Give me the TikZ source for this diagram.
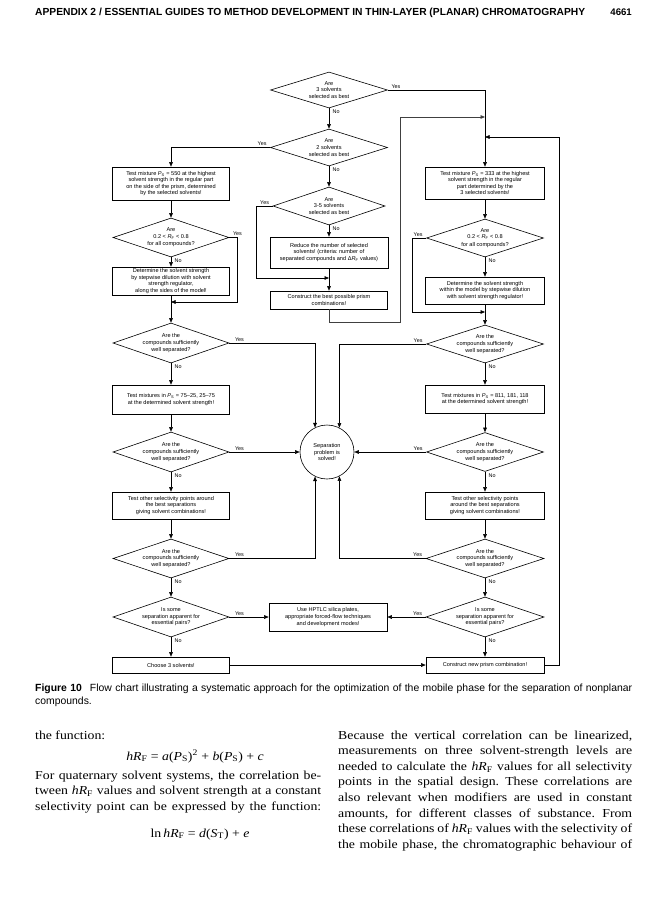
\documentclass[tikz,border=0pt]{standalone}
\usepackage{fontspec}
\setmainfont{Liberation Serif}
\setsansfont{Liberation Sans}
\newfontfamily\bodyfont[FakeStretch=1.13]{Liberation Serif}
\usetikzlibrary{shapes.geometric,arrows.meta,calc}
\newcommand{\mysub}[1]{\textsubscript{#1}}
\newcommand{\PS}{{\itshape P}\mysub{S}}
\newcommand{\RF}{{\itshape R}\mysub{F}}
\newcommand{\hRF}{\textit{hR}\mysub{F}}
\newcommand{\jlL}[1]{\makebox[286pt][s]{#1}}
\newcommand{\jlR}[1]{\makebox[294pt][s]{#1}}
\frenchspacing
\begin{document}
\begin{tikzpicture}[x=1pt,y=-1pt,
  fc/.style={font=\sffamily\fontsize{5.6}{6.6}\selectfont, align=center},
  box/.style={fc, draw, line width=0.6pt, rectangle, inner sep=0pt},
  dia/.style={fc, draw, line width=0.6pt, diamond, inner sep=0pt, aspect=3},
  arr/.style={line width=0.5pt, -{Triangle[length=4.5pt,width=3.6pt]}},
  lbl/.style={font=\sffamily\fontsize{5.4}{6}\selectfont, inner sep=0.5pt},
  body/.style={font=\bodyfont\fontsize{12.2}{14}\selectfont, inner sep=0pt, anchor=base west},
  captxt/.style={font=\sffamily\fontsize{10.4}{12}\selectfont, inner sep=0pt, anchor=base west}
]
\fill[white] (0,0) rectangle (668,900);
\useasboundingbox (0,0) rectangle (668,900);

% header
\node[anchor=base west, inner sep=0pt] (hdr) at (35,15)
  {\resizebox{550pt}{!}{\sffamily\bfseries APPENDIX 2 / ESSENTIAL GUIDES TO METHOD DEVELOPMENT IN THIN-LAYER (PLANAR) CHROMATOGRAPHY}};
\node[anchor=base east, inner sep=0pt, font=\sffamily\bfseries\fontsize{9.6}{10}\selectfont] (pg) at (632,15) {4661};

% centre column
\node[dia, minimum width=117pt, minimum height=36pt] (d1) at (329,90) {Are\\3 solvents\\selected as best};
\node[dia, minimum width=117pt, minimum height=37pt] (d2) at (329,147.5) {Are\\2 solvents\\selected as best};
\node[dia, minimum width=112pt, minimum height=38pt] (dc3) at (329,206) {Are\\3-5 solvents\\selected as best};
\node[box, minimum width=118pt, minimum height=31pt] (c1) at (329,252.5) {Reduce the number of selected\\solvents! (criteria: number of\\separated compounds and Δ\RF{} values)};
\node[box, minimum width=117pt, minimum height=18pt] (c2) at (329,300) {Construct the best possible prism\\combinations!};
\node[circle, draw, line width=0.6pt, minimum size=54pt, inner sep=0pt, fc] (circ) at (327,452) {Separation\\problem is\\solved!};
\node[box, minimum width=118pt, minimum height=28pt] (bc) at (328,617) {Use HPTLC silica plates,\\appropriate forced-flow techniques\\and development modes!};

% left column
\node[box, minimum width=117pt, minimum height=33pt] (b1) at (171,183.5) {Test mixture \PS{} = 550 at the highest\\solvent strength in the regular part\\on the side of the prism, determined\\by the selected solvents!};
\node[dia, minimum width=116pt, minimum height=39pt] (d3) at (171,237.5) {Are\\0.2 {\textless} \RF{} {\textless} 0.8\\[1pt]for all compounds?};
\node[box, minimum width=117pt, minimum height=28pt] (b2) at (171,281) {Determine the solvent strength\\by stepwise dilution with solvent\\strength regulator,\\along the sides of the model!};
\node[dia, minimum width=116pt, minimum height=40pt] (dl2) at (171,343) {Are the\\compounds sufficiently\\well separated?};
\node[box, minimum width=117pt, minimum height=29pt] (bl3) at (171,399.5) {Test mixtures in \PS{} = 75–25, 25–75\\at the determined solvent strength!};
\node[dia, minimum width=116pt, minimum height=40pt] (dl3) at (171,452) {Are the\\compounds sufficiently\\well separated?};
\node[box, minimum width=117pt, minimum height=27pt] (bl4) at (171,505.5) {Test other selectivity points around\\the best separations\\giving solvent combinations!};
\node[dia, minimum width=116pt, minimum height=39pt] (dl4) at (171,558.5) {Are the\\compounds sufficiently\\well separated?};
\node[dia, minimum width=116pt, minimum height=40pt] (dl5) at (171,617) {Is some\\separation apparent for\\essential pairs?};
\node[box, minimum width=117pt, minimum height=16pt] (bl6) at (171,665) {Choose 3 solvents!};

% right column
\node[box, minimum width=119pt, minimum height=32pt] (r1) at (485,183) {Test mixture \PS{} = 333 at the highest\\solvent strength in the regular\\part determined by the\\3 selected solvents!};
\node[dia, minimum width=117pt, minimum height=38pt] (dr1) at (485,238) {Are\\0.2 {\textless} \RF{} {\textless} 0.8\\[1pt]for all compounds?};
\node[box, minimum width=119pt, minimum height=27pt] (r2) at (485,290.5) {Determine the solvent strength\\within the model by stepwise dilution\\with solvent strength regulator!};
\node[dia, minimum width=117pt, minimum height=38pt] (dr2) at (485,344) {Are the\\compounds sufficiently\\well separated?};
\node[box, minimum width=119pt, minimum height=28pt] (br3) at (485,399) {Test mixtures in \PS{} = 811, 181, 118\\at the determined solvent strength!};
\node[dia, minimum width=117pt, minimum height=39pt] (dr3) at (485,452) {Are the\\compounds sufficiently\\well separated?};
\node[box, minimum width=119pt, minimum height=27pt] (br4) at (485,505.5) {Test other selectivity points\\around the best separations\\giving solvent combinations!};
\node[dia, minimum width=118pt, minimum height=39pt] (dr4) at (485,558.5) {Are the\\compounds sufficiently\\well separated?};
\node[dia, minimum width=118pt, minimum height=40pt] (dr5) at (485,617) {Is some\\separation apparent for\\essential pairs?};
\node[box, minimum width=118pt, minimum height=16pt] (br6) at (485,665) {Construct new prism combination!};

% junction points
\coordinate (j1) at (485,117);
\coordinate (j2) at (485,137);
\coordinate (j3) at (329,278);
\coordinate (j4) at (171,302);
\coordinate (j5) at (485,312);

% connectors: centre
\draw[arr] (d1.east) -| (r1.north);
\node[lbl, anchor=south west] at ($(d1.east)+(3,-1)$) {Yes};
\draw[arr] (d1.south) -- (d2.north);
\node[lbl, anchor=north west] at ($(d1.south)+(3,1)$) {No};
\draw[arr] (d2.west) -| (b1.north);
\node[lbl, anchor=south east] at ($(d2.west)+(-3,-1)$) {Yes};
\draw[arr] (d2.south) -- (dc3.north);
\node[lbl, anchor=north west] at ($(d2.south)+(3,1)$) {No};
\draw[arr] (dc3.west) -- (256,206) |- (j3);
\node[lbl, anchor=south east] at ($(dc3.west)+(-3,-1)$) {Yes};
\draw[arr] (dc3.south) -- (c1.north);
\node[lbl, anchor=north west] at ($(dc3.south)+(3,1)$) {No};
\draw[arr] (c1.south) -- (c2.north);
\draw[arr, draw=black!75, line width=0.8pt] (c2.south) -- ++(0,13) -| (400,117) -- (j1);
\draw[arr] (br6.east) -- (559,665) -- (559,137) -- (j2);

% connectors: left
\draw[arr] (b1.south) -- (d3.north);
\draw[arr] (d3.east) -- (237,237.5) |- (j4);
\node[lbl, anchor=south west] at ($(d3.east)+(3,-1)$) {Yes};
\draw[arr] (d3.south) -- (b2.north);
\node[lbl, anchor=north west] at ($(d3.south)+(3,1)$) {No};
\draw[arr] (b2.south) -- (dl2.north);
\draw[arr] (dl2.east) -| (circ.116.4);
\node[lbl, anchor=south west] at ($(dl2.east)+(5,-1)$) {Yes};
\draw[arr] (dl2.south) -- (bl3.north);
\node[lbl, anchor=north west] at ($(dl2.south)+(3,1)$) {No};
\draw[arr] (bl3.south) -- (dl3.north);
\draw[arr] (dl3.east) -- (circ.west);
\node[lbl, anchor=south west] at ($(dl3.east)+(5,-1)$) {Yes};
\draw[arr] (dl3.south) -- (bl4.north);
\node[lbl, anchor=north west] at ($(dl3.south)+(3,1)$) {No};
\draw[arr] (bl4.south) -- (dl4.north);
\draw[arr] (dl4.east) -| (circ.-116.4);
\node[lbl, anchor=south west] at ($(dl4.east)+(5,-1)$) {Yes};
\draw[arr] (dl4.south) -- (dl5.north);
\node[lbl, anchor=north west] at ($(dl4.south)+(3,1)$) {No};
\draw[arr] (dl5.east) -- (bc.west);
\node[lbl, anchor=south west] at ($(dl5.east)+(5,-1)$) {Yes};
\draw[arr] (dl5.south) -- (bl6.north);
\node[lbl, anchor=north west] at ($(dl5.south)+(3,1)$) {No};
\draw[arr] (bl6.east) -- (br6.west);

% connectors: right
\draw[arr] (r1.south) -- (dr1.north);
\draw[arr] (dr1.west) -- (412,238) |- (j5);
\node[lbl, anchor=south east] at ($(dr1.west)+(-3,-1)$) {Yes};
\draw[arr] (dr1.south) -- (r2.north);
\node[lbl, anchor=north west] at ($(dr1.south)+(3,1)$) {No};
\draw[arr] (r2.south) -- (dr2.north);
\draw[arr] (dr2.west) -| (circ.63.6);
\node[lbl, anchor=south east] at ($(dr2.west)+(-3,-1)$) {Yes};
\draw[arr] (dr2.south) -- (br3.north);
\node[lbl, anchor=north west] at ($(dr2.south)+(3,1)$) {No};
\draw[arr] (br3.south) -- (dr3.north);
\draw[arr] (dr3.west) -- (circ.east);
\node[lbl, anchor=south east] at ($(dr3.west)+(-3,-1)$) {Yes};
\draw[arr] (dr3.south) -- (br4.north);
\node[lbl, anchor=north west] at ($(dr3.south)+(3,1)$) {No};
\draw[arr] (br4.south) -- (dr4.north);
\draw[arr] (dr4.west) -| (circ.-63.6);
\node[lbl, anchor=south east] at ($(dr4.west)+(-3,-1)$) {Yes};
\draw[arr] (dr4.south) -- (dr5.north);
\node[lbl, anchor=north west] at ($(dr4.south)+(3,1)$) {No};
\draw[arr] (dr5.west) -- (bc.east);
\node[lbl, anchor=south east] at ($(dr5.west)+(-3,-1)$) {Yes};
\draw[arr] (dr5.south) -- (br6.north);
\node[lbl, anchor=north west] at ($(dr5.south)+(3,1)$) {No};

% caption
\node[captxt] (cap1) at (35,691) {\makebox[597pt][s]{\textbf{Figure 10}\hspace{8pt}Flow chart illustrating a systematic approach for the optimization of the mobile phase for the separation of nonplanar}};
\node[captxt] (cap2) at (35,704) {compounds.};

% body text, left column
\node[body] (l1) at (35,739) {the function:};
\node[body, anchor=base] (f1) at (195,760) {\hRF{} = \textit{a}(\textit{P}\mysub{S})\textsuperscript{2} + \textit{b}(\textit{P}\mysub{S}) + \textit{c}};
\node[body] (l2) at (35,779) {\jlL{For quaternary solvent systems, the correlation be-}};
\node[body] (l3) at (35,794.5) {\jlL{tween \hRF{} values and solvent strength at a constant}};
\node[body] (l4) at (35,810) {\jlL{selectivity point can be expressed by the function:}};
\node[body, anchor=base] (f2) at (200,837) {ln\,\hRF{} = \textit{d}(\textit{S}\mysub{T}) + \textit{e}};

% body text, right column
\node[body] (r01) at (338,739) {\jlR{Because the vertical correlation can be linearized,}};
\node[body] (r02) at (338,754.6) {\jlR{measurements on three solvent-strength levels are}};
\node[body] (r03) at (338,770.2) {\jlR{needed to calculate the \hRF{} values for all selectivity}};
\node[body] (r04) at (338,785.8) {\jlR{points in the spatial design. These correlations are}};
\node[body] (r05) at (338,801.4) {\jlR{also relevant when modifiers are used in constant}};
\node[body] (r06) at (338,817) {\jlR{amounts, for different classes of substance. From}};
\node[body] (r07) at (338,832.6) {\jlR{these correlations of \hRF{} values with the selectivity of}};
\node[body] (r08) at (338,848.2) {\jlR{the mobile phase, the chromatographic behaviour of}};
\end{tikzpicture}
\end{document}
